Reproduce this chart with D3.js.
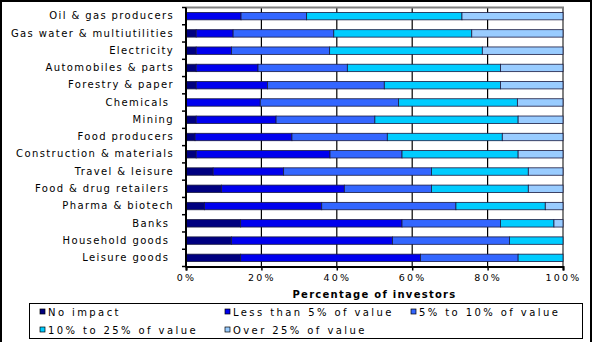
<!DOCTYPE html>
<html>
<head>
<meta charset="utf-8">
<script src="https://cdn.jsdelivr.net/npm/d3@7"></script>
<style>
  html, body { margin: 0; padding: 0; background: #fff; }
  svg { display: block; }
  text { font-family: "DejaVu Sans", Verdana, sans-serif; white-space: pre; }
</style>
</head>
<body>
<svg id="chart" width="592" height="342"></svg>
<script>
// Sectors, top to bottom
const categories = [
  "Oil & gas producers", "Gas water & multiutilities", "Electricity",
  "Automobiles & parts", "Forestry & paper", "Chemicals ", "Mining",
  "Food producers", "Construction & materials", "Travel & leisure",
  "Food & drug retailers ", "Pharma & biotech", "Banks ",
  "Household goods ", "Leisure goods "
];

// Share of investors (%) per expected impact band
const noImpact = [0, 2.7, 2.7, 2.7, 2.7, 0, 2.7, 2.4, 2.7, 7.2, 9.4, 4.9, 14.5, 12.1, 14.5];
const lessThan5 = [14.6, 9.8, 9.4, 16.4, 18.9, 19.7, 21.2, 25.7, 35.5, 18.7, 32.6, 31.1, 42.8, 42.7, 47.7];
const from5to10 = [17.4, 26.7, 26.0, 23.7, 31.0, 36.7, 26.2, 25.3, 19.1, 39.2, 23.1, 35.6, 26.1, 31.0, 25.9];
const from10to25 = [41.2, 36.6, 40.5, 40.6, 30.8, 31.5, 38.0, 30.5, 30.8, 25.7, 25.7, 23.7, 14.2, 14.2, 11.9];
const over25 = [26.8, 24.2, 21.4, 16.6, 16.6, 12.1, 11.9, 16.1, 11.9, 9.2, 9.2, 4.7, 2.4, 0, 0];

const seriesNames = ["No impact", "Less than 5% of value", "5% to 10% of value",
                     "10% to 25% of value", "Over 25% of value"];
const seriesValues = [noImpact, lessThan5, from5to10, from10to25, over25];
const seriesColors = ["#000080", "#0000ee", "#3366ff", "#00ccff", "#99ccff"];

const xTicks = [0, 20, 40, 60, 80, 100];
const xTitle = "Percentage of investors";

const svg = d3.select("#chart");
const W = 592, H = 342;

// Spread a text selection so that the sample node spans `width` pixels;
// the resulting letter-spacing is applied to the whole selection.
function spread(selection, sampleNode, width) {
  selection.attr("letter-spacing", 0);
  const natural = sampleNode.getComputedTextLength();
  const n = sampleNode.textContent.length;
  selection.attr("letter-spacing", ((width - natural) / n).toFixed(3) + "px");
}

svg.append("rect").attr("width", W).attr("height", H).attr("fill", "#fff");

const plot = { left: 186, right: 563, top: 7.5, bottom: 266.5 };

const x = d3.scaleLinear().domain([0, 100]).range([plot.left, plot.right]);
const y = d3.scaleBand().domain(categories).range([plot.top, plot.bottom]).paddingInner(0).paddingOuter(0);

// rows for stacking
const rows = categories.map((c, i) => {
  const r = { category: c };
  seriesNames.forEach((s, k) => r[s] = seriesValues[k][i]);
  return r;
});
const stacked = d3.stack().keys(seriesNames)(rows);

// plot area
svg.append("rect")
  .attr("x", plot.left).attr("y", plot.top)
  .attr("width", plot.right - plot.left).attr("height", plot.bottom - plot.top)
  .attr("fill", "#fff");

// vertical gridlines
svg.append("g").selectAll("line")
  .data(xTicks.filter(t => t > 0 && t < 100))
  .join("line")
  .attr("x1", d => x(d)).attr("x2", d => x(d))
  .attr("y1", plot.top).attr("y2", plot.bottom)
  .attr("stroke", "#000").attr("stroke-width", 1.2);

// plot border (top and right)
svg.append("path")
  .attr("d", `M${plot.left},${plot.top}H${plot.right}V${plot.bottom}`)
  .attr("fill", "none").attr("stroke", "#808080").attr("stroke-width", 2);

// bars
const barH = y.bandwidth() * 0.43;
svg.append("g").selectAll("g")
  .data(stacked)
  .join("g")
  .attr("fill", (d, i) => seriesColors[i])
  .selectAll("rect")
  .data(d => d.filter(p => p[1] - p[0] > 0))
  .join("rect")
  .attr("x", p => x(p[0]))
  .attr("width", p => x(p[1]) - x(p[0]))
  .attr("y", p => y(p.data.category) + (y.bandwidth() - barH) / 2)
  .attr("height", barH)
  .attr("stroke", "#1a1a40").attr("stroke-width", 0.8);

// left axis: labels at band centres, ticks at band boundaries
const yAxis = svg.append("g")
  .attr("transform", `translate(${plot.left},0)`)
  .call(d3.axisLeft(y).tickSize(0).tickPadding(12));
yAxis.select(".domain").remove();
const yLabels = yAxis.selectAll("text")
  .attr("font-size", "10px")
  .attr("fill", "#000")
  .attr("font-family", "DejaVu Sans, Verdana, sans-serif");
spread(yLabels, yLabels.filter(d => d === "Gas water & multiutilities").node(), 163);

const boundaries = categories.map(c => y(c)).concat([plot.bottom]);
svg.append("g").selectAll("line")
  .data(boundaries)
  .join("line")
  .attr("x1", plot.left - 4).attr("x2", plot.left)
  .attr("y1", d => d).attr("y2", d => d)
  .attr("stroke", "#000").attr("stroke-width", 1.5);
svg.append("line")
  .attr("x1", plot.left).attr("x2", plot.left)
  .attr("y1", plot.top).attr("y2", plot.bottom + 1)
  .attr("stroke", "#000").attr("stroke-width", 2);

// bottom axis
const xAxis = svg.append("g")
  .attr("transform", `translate(0,${plot.bottom})`)
  .call(d3.axisBottom(x).tickValues(xTicks).tickFormat(d => d + "%").tickSize(4).tickPadding(4));
xAxis.select(".domain").attr("stroke", "#000").attr("stroke-width", 2);
xAxis.selectAll(".tick line").attr("stroke", "#000").attr("stroke-width", 1.5);
const xLabels = xAxis.selectAll("text")
  .attr("font-size", "9.5px")
  .attr("fill", "#000")
  .attr("font-family", "DejaVu Sans, Verdana, sans-serif");
spread(xLabels, xLabels.filter(d => d === 100).node(), 36);

// axis title
const title = svg.append("text")
  .attr("x", (plot.left + plot.right) / 2).attr("y", 297.5)
  .attr("text-anchor", "middle")
  .attr("font-size", "10px").attr("font-weight", "bold")
  .text(xTitle);
spread(title, title.node(), 164);

// legend
const legend = svg.append("g");
legend.append("rect")
  .attr("x", 29.5).attr("y", 303.5).attr("width", 553).attr("height", 35)
  .attr("fill", "#fff").attr("stroke", "#000").attr("stroke-width", 1);
const colX = [40, 225, 411];
const rowY = [316, 334];
seriesNames.forEach((name, i) => {
  const cx = colX[i % 3], ry = rowY[Math.floor(i / 3)];
  legend.append("rect")
    .attr("x", cx).attr("y", ry - 7).attr("width", 5).attr("height", 5)
    .attr("fill", seriesColors[i]).attr("stroke", "#000").attr("stroke-width", 0.7);
  legend.append("text")
    .attr("class", "legend-label")
    .attr("x", cx + 8).attr("y", ry)
    .attr("font-size", "10px")
    .text(name);
});
const legendLabels = legend.selectAll(".legend-label");
spread(legendLabels, legendLabels.nodes()[3], 150);

// outer frame: top, left and right edges
svg.append("path")
  .attr("d", `M1,${H}V1H${W - 1}V${H}`)
  .attr("fill", "none").attr("stroke", "#000").attr("stroke-width", 2);
</script>
</body>
</html>
